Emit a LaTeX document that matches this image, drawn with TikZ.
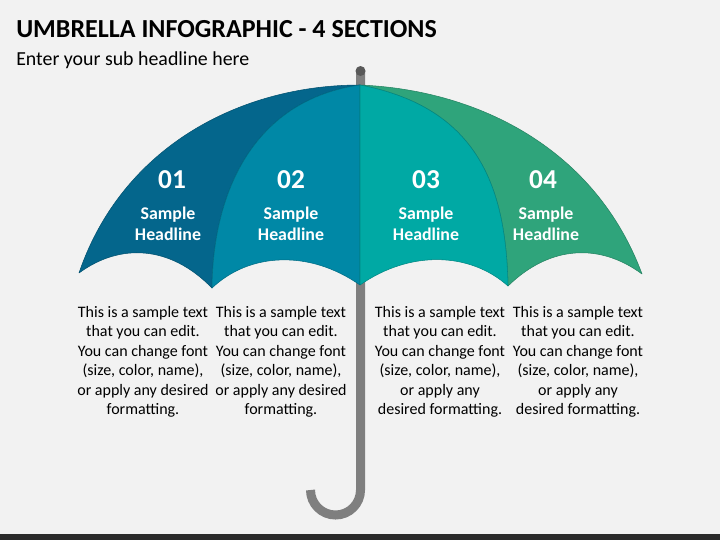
\documentclass[tikz,border=0pt]{standalone}
\usepackage{fontspec}
\setmainfont{Carlito}
\definecolor{backcol}{HTML}{F2F2F2}
\definecolor{barcol}{HTML}{2B2B2B}
\definecolor{polecol}{HTML}{7F7F7F}
\definecolor{knobcol}{HTML}{595959}
\definecolor{onecol}{HTML}{04668C}
\definecolor{twocol}{HTML}{0088A6}
\definecolor{threecol}{HTML}{00A9A4}
\definecolor{fourcol}{HTML}{2FA47B}
\begin{document}
\begin{tikzpicture}[x=0.75pt,y=-0.75pt,
        panel/.style={line width=0.4pt,line join=round},
        num/.style={text=white,font=\fontsize{20.5}{24}\selectfont\bfseries},
        head/.style={text=white,align=center,font=\fontsize{13.4}{15.7}\selectfont\bfseries},
        body/.style={text=black,align=center,font=\fontsize{12}{14.6}\selectfont}]
            \useasboundingbox (0,0) rectangle (720,540);
            \fill[backcol] (0,0) rectangle (720,540);
            \fill[barcol] (0,534) rectangle (720,540);
            \node[anchor=west,inner sep=0pt,font=\fontsize{19.5}{22}\selectfont\bfseries] (title) at (16,29) {UMBRELLA INFOGRAPHIC - 4 SECTIONS};
            \node[anchor=west,inner sep=0pt,font=\fontsize{14.9}{17}\selectfont] (sub) at (16,60) {Enter your sub headline here};
            % pole and hook
            \draw[polecol,line width=6.75pt] (360.5,71) -- (360.5,490) arc (0:180:25 and 25);
            \fill[knobcol] (360.5,71) circle (5);
            % panels, outer ones first
            \path[panel,fill=onecol,draw=onecol!80!black] (79,273) .. controls (122,147) and (240,85) .. (360,85)
                .. controls (255,100) and (213,190) .. (212,288)
                .. controls (170,245) and (120,243) .. (79,273) -- cycle;
            \path[panel,fill=fourcol,draw=fourcol!80!black] (642,274) .. controls (596,150) and (480,90) .. (360,85)
                .. controls (480,108) and (506,190) .. (508,286)
                .. controls (550,245) and (600,243) .. (642,274) -- cycle;
            \path[panel,fill=twocol,draw=twocol!80!black] (212,288) .. controls (213,190) and (255,100) .. (360,85)
                -- (360,285) .. controls (310,250) and (250,252) .. (212,288) -- cycle;
            \path[panel,fill=threecol,draw=threecol!80!black] (508,286) .. controls (506,190) and (480,108) .. (360,85)
                -- (360,285) .. controls (410,250) and (470,252) .. (508,286) -- cycle;
            % labels
            \node[num] (n1) at (172,180) {01};
            \node[num] (n2) at (291,180) {02};
            \node[num] (n3) at (426,180) {03};
            \node[num] (n4) at (543,180) {04};
            \node[head] (h1) at (168,224) {Sample\\Headline};
            \node[head] (h2) at (291,224) {Sample\\Headline};
            \node[head] (h3) at (426,224) {Sample\\Headline};
            \node[head] (h4) at (546,224) {Sample\\Headline};
            \node[body] (t1) at (143,362) {This is a sample text\\that you can edit.\\You can change font\\(size, color, name),\\or apply any desired\\formatting.};
            \node[body] (t2) at (281,362) {This is a sample text\\that you can edit.\\You can change font\\(size, color, name),\\or apply any desired\\formatting.};
            \node[body] (t3) at (440,362) {This is a sample text\\that you can edit.\\You can change font\\(size, color, name),\\or apply any\\desired formatting.};
            \node[body] (t4) at (578,362) {This is a sample text\\that you can edit.\\You can change font\\(size, color, name),\\or apply any\\desired formatting.};
        \end{tikzpicture}
\end{document}
